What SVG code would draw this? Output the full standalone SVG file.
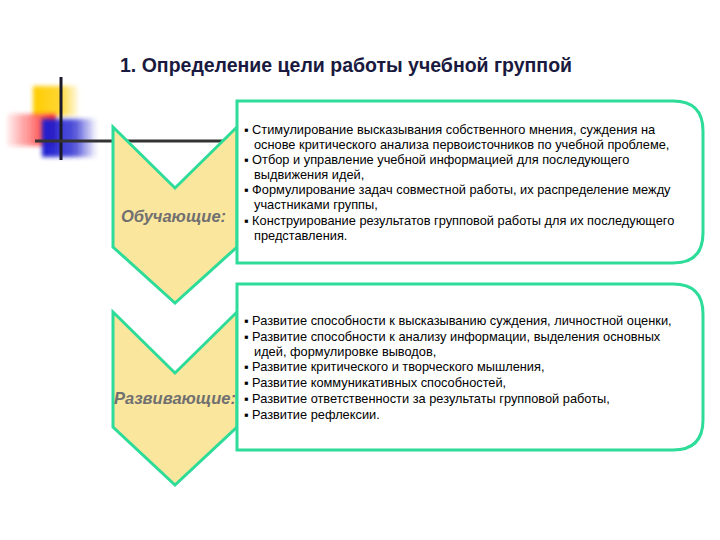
<svg xmlns="http://www.w3.org/2000/svg" width="720" height="540" viewBox="0 0 720 540">
<defs>
<filter id="b" x="-30%" y="-30%" width="160%" height="160%"><feGaussianBlur stdDeviation="2"/></filter>
<linearGradient id="gy" x1="0" x2="1"><stop offset="0" stop-color="#ffcc00"/><stop offset="0.6" stop-color="#ffcc00" stop-opacity="0.8"/><stop offset="1" stop-color="#ffcc00" stop-opacity="0.1"/></linearGradient>
<linearGradient id="gr" x1="1" x2="0"><stop offset="0" stop-color="#ff2020"/><stop offset="1" stop-color="#ff2020" stop-opacity="0.1"/></linearGradient>
<linearGradient id="gb" x1="0" x2="1"><stop offset="0" stop-color="#1a1ad0"/><stop offset="0.6" stop-color="#2a2ad0" stop-opacity="0.8"/><stop offset="1" stop-color="#2a2ad0" stop-opacity="0"/></linearGradient>
<style>
.ch{fill:#fbe69e;stroke:#2ddc98;stroke-width:3;stroke-linejoin:miter}
.bx{fill:#fff;stroke:#2ddc98;stroke-width:3}
.t{font-family:"Liberation Sans",Arial,sans-serif;font-size:12.8px;fill:#000}
.lb{font-family:"Liberation Sans",Arial,sans-serif;font-size:16.5px;font-weight:bold;font-style:italic;fill:#707070}
</style>
</defs>
<g id="decor">
<rect x="33" y="86" width="45" height="30" fill="url(#gy)" filter="url(#b)"/>
<rect x="8" y="114" width="48" height="32" fill="url(#gr)" filter="url(#b)"/>
<rect x="42" y="119" width="55" height="38" fill="url(#gb)" filter="url(#b)"/>
<line x1="61" y1="77" x2="61" y2="160" stroke="#1a1a2a" stroke-width="3"/>
<line x1="35" y1="141" x2="237" y2="141" stroke="#333" stroke-width="3"/>
</g>
<text x="120" y="72" font-family="Liberation Sans,Arial,sans-serif" font-size="19.5" font-weight="bold" fill="#1a1a40">1. Определение цели работы учебной группой</text>
<g id="chevron1"><polygon class="ch" points="113,127 175,188 237,127 237,247 175,303 113,247"/><text class="lb" x="121" y="222">Обучающие:</text></g>
<g id="chevron2"><polygon class="ch" points="113,312 175,373 237,312 237,427 175,485 113,427"/><text class="lb" x="114" y="404">Развивающие:</text></g>
<g id="box1"><path class="bx" d="M237,101 H673 Q703,101 703,131 V233 Q703,263 673,263 H237 Z"/>
<text class="t">
<tspan x="244" y="134">▪ Стимулирование высказывания собственного мнения, суждения на</tspan>
<tspan x="254" y="149">основе критического анализа первоисточников по учебной проблеме,</tspan>
<tspan x="244" y="164">▪ Отбор и управление учебной информацией для последующего</tspan>
<tspan x="254" y="179">выдвижения идей,</tspan>
<tspan x="244" y="194">▪ Формулирование задач совместной работы, их распределение между</tspan>
<tspan x="254" y="209">участниками группы,</tspan>
<tspan x="244" y="225">▪ Конструирование результатов групповой работы для их последующего</tspan>
<tspan x="254" y="240">представления.</tspan>
</text></g>
<g id="box2"><path class="bx" d="M237,284 H673 Q703,284 703,314 V420 Q703,450 673,450 H237 Z"/>
<text class="t">
<tspan x="244" y="325">▪ Развитие способности к высказыванию суждения, личностной оценки,</tspan>
<tspan x="244" y="341">▪ Развитие способности к анализу информации, выделения основных</tspan>
<tspan x="254" y="356">идей, формулировке выводов,</tspan>
<tspan x="244" y="371">▪ Развитие критического и творческого мышления,</tspan>
<tspan x="244" y="387">▪ Развитие коммуникативных способностей,</tspan>
<tspan x="244" y="403">▪ Развитие ответственности за результаты групповой работы,</tspan>
<tspan x="244" y="419">▪ Развитие рефлексии.</tspan>
</text></g>
</svg>
